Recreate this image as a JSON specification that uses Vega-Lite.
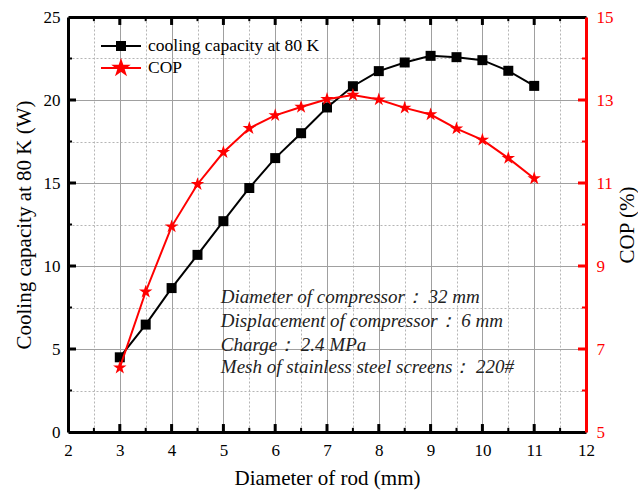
{
  "$schema": "https://vega.github.io/schema/vega-lite/v6.json",
  "width": 518,
  "height": 415,
  "autosize": {"type": "none"},
  "padding": {"left": 68, "top": 17, "right": 52, "bottom": 63},
  "background": "white",
  "config": {
    "font": "Liberation Serif",
    "view": {"stroke": null},
    "axis": {
      "labelFont": "Liberation Serif",
      "titleFont": "Liberation Serif",
      "labelFontSize": 17,
      "titleFontSize": 21,
      "titleFontWeight": "normal",
      "labelColor": "black",
      "titleColor": "black",
      "labelFlush": false,
      "labelOverlap": false
    }
  },
  "datasets": {
    "main": [
      {"d": 3, "cap": 4.5, "cop": 6.55},
      {"d": 3.5, "cap": 6.47, "cop": 8.38},
      {"d": 4, "cap": 8.67, "cop": 9.95},
      {"d": 4.5, "cap": 10.67, "cop": 10.97},
      {"d": 5, "cap": 12.7, "cop": 11.74},
      {"d": 5.5, "cap": 14.7, "cop": 12.32},
      {"d": 6, "cap": 16.5, "cop": 12.63},
      {"d": 6.5, "cap": 18.0, "cop": 12.83},
      {"d": 7, "cap": 19.55, "cop": 13.02},
      {"d": 7.5, "cap": 20.83, "cop": 13.12},
      {"d": 8, "cap": 21.74, "cop": 13.01},
      {"d": 8.5, "cap": 22.26, "cop": 12.81},
      {"d": 9, "cap": 22.66, "cop": 12.65},
      {"d": 9.5, "cap": 22.58, "cop": 12.31},
      {"d": 10, "cap": 22.4, "cop": 12.04},
      {"d": 10.5, "cap": 21.76, "cop": 11.6},
      {"d": 11, "cap": 20.85, "cop": 11.11}
    ],
    "note": [
      {"tx": 4.95, "ty": 7.79, "t": "Diameter of compressor： 32 mm"},
      {"tx": 4.95, "ty": 6.34, "t": "Displacement of compressor： 6 mm"},
      {"tx": 4.95, "ty": 4.89, "t": "Charge： 2.4 MPa"},
      {"tx": 4.95, "ty": 3.56, "t": "Mesh of stainless steel screens： 220#"}
    ],
    "xmaj": [{"v": 3}, {"v": 4}, {"v": 5}, {"v": 6}, {"v": 7}, {"v": 8}, {"v": 9}, {"v": 10}, {"v": 11}],
    "xmin": [{"v": 2.5}, {"v": 3.5}, {"v": 4.5}, {"v": 5.5}, {"v": 6.5}, {"v": 7.5}, {"v": 8.5}, {"v": 9.5}, {"v": 10.5}, {"v": 11.5}],
    "ymaj": [{"v": 5}, {"v": 10}, {"v": 15}, {"v": 20}],
    "ymin": [{"v": 2.5}, {"v": 7.5}, {"v": 12.5}, {"v": 17.5}, {"v": 22.5}]
  },
  "resolve": {
    "scale": {"y": "independent"},
    "axis": {"x": "independent", "y": "independent"}
  },
  "layer": [
    {
      "data": {"name": "main"},
      "mark": {"type": "point", "opacity": 0},
      "encoding": {
        "x": {
          "field": "d", "type": "quantitative",
          "scale": {"domain": [2, 12], "nice": false, "zero": false},
          "axis": {
            "orient": "bottom",
            "values": [2.5, 3.5, 4.5, 5.5, 6.5, 7.5, 8.5, 9.5, 10.5, 11.5],
            "labels": false, "domain": false, "ticks": false,
            "grid": true, "gridColor": "#b5b5b5", "gridDash": [2, 2], "gridWidth": 1,
            "title": null
          }
        },
        "y": {
          "field": "cap", "type": "quantitative",
          "scale": {"domain": [0, 25], "nice": false},
          "axis": {
            "orient": "left",
            "values": [2.5, 7.5, 12.5, 17.5, 22.5],
            "labels": false, "domain": false, "ticks": false,
            "grid": true, "gridColor": "#b5b5b5", "gridDash": [2, 2], "gridWidth": 1,
            "title": null
          }
        }
      }
    },
    {
      "data": {"name": "main"},
      "mark": {"type": "line", "strokeWidth": 2, "point": {"shape": "square", "size": 100, "filled": true, "opacity": 1}},
      "encoding": {
        "x": {
          "field": "d", "type": "quantitative",
          "scale": {"domain": [2, 12], "nice": false, "zero": false},
          "axis": {
            "orient": "bottom",
            "values": [2, 3, 4, 5, 6, 7, 8, 9, 10, 11, 12],
            "domain": true, "domainColor": "black", "domainWidth": 3,
            "ticks": false,
            "labelPadding": 10,
            "grid": true, "gridColor": "#a0a0a0", "gridWidth": 1,
            "title": "Diameter of rod (mm)", "titlePadding": 9
          }
        },
        "y": {
          "field": "cap", "type": "quantitative",
          "scale": {"domain": [0, 25], "nice": false},
          "axis": {
            "orient": "left",
            "values": [0, 5, 10, 15, 20, 25],
            "domain": true, "domainColor": "black", "domainWidth": 3,
            "ticks": false,
            "labelPadding": 8,
            "grid": true, "gridColor": "#a0a0a0", "gridWidth": 1,
            "title": "Cooling capacity at 80 K (W)", "titlePadding": 9
          }
        },
        "color": {
          "datum": "cooling capacity at 80 K",
          "scale": {"domain": ["cooling capacity at 80 K", "COP"], "range": ["black", "red"]},
          "legend": {
            "title": null,
            "orient": "none",
            "legendX": 42,
            "legendY": 18,
            "padding": 0,
            "symbolSize": 400,
            "labelOffset": 16,
            "labelFontSize": 17.5,
            "labelFont": "Liberation Serif",
            "labelColor": "black",
            "rowPadding": 2,
            "labelLimit": 400,
            "encode": {
              "symbols": {
                "update": {
                  "shape": {"signal": "datum.value === 'COP' ? 'M-2,0L2,0M0,-0.7L0.158,-0.216L0.666,-0.216L0.254,0.083L0.412,0.566L0,0.267L-0.412,0.566L-0.254,0.083L-0.666,-0.216L-0.158,-0.216Z' : 'M-2,0L2,0M-0.4,-0.4L0.4,-0.4L0.4,0.4L-0.4,0.4Z'"},
                  "fill": {"signal": "datum.value === 'COP' ? 'red' : 'black'"},
                  "stroke": {"signal": "datum.value === 'COP' ? 'red' : 'black'"},
                  "strokeWidth": {"value": 2},
                  "opacity": {"value": 1}
                }
              }
            }
          }
        }
      }
    },
    {
      "data": {"name": "main"},
      "mark": {"type": "line", "strokeWidth": 2, "point": {"shape": "M0,-1L0.225,-0.309L0.951,-0.309L0.363,0.118L0.588,0.809L0,0.382L-0.588,0.809L-0.363,0.118L-0.951,-0.309L-0.225,-0.309Z", "size": 200, "filled": true, "opacity": 1}},
      "encoding": {
        "x": {
          "field": "d", "type": "quantitative",
          "scale": {"domain": [2, 12], "nice": false, "zero": false},
          "axis": {
            "orient": "top",
            "values": [2, 3, 4, 5, 6, 7, 8, 9, 10, 11, 12],
            "labels": false, "ticks": false,
            "domain": true, "domainColor": "black", "domainWidth": 3,
            "grid": false, "title": null
          }
        },
        "y": {
          "field": "cop", "type": "quantitative",
          "scale": {"domain": [5, 15], "nice": false, "zero": false},
          "axis": {
            "orient": "right",
            "values": [5, 7, 9, 11, 13, 15],
            "domain": true, "domainColor": "red", "domainWidth": 3,
            "ticks": false,
            "labelColor": "red", "labelPadding": 10,
            "grid": false,
            "title": "COP (%)", "titleAngle": 270, "titleBaseline": "top", "titlePadding": 3
          }
        },
        "color": {"datum": "COP"}
      }
    },
    {
      "data": {"name": "xmaj"},
      "mark": {"type": "rule", "strokeWidth": 3, "color": "black"},
      "encoding": {
        "x": {"field": "v", "type": "quantitative", "scale": {"domain": [2, 12], "nice": false, "zero": false}, "axis": null},
        "y": {"datum": 0, "type": "quantitative", "scale": {"domain": [0, 25], "nice": false}, "axis": null},
        "y2": {"datum": 0.48}
      }
    },
    {
      "data": {"name": "xmaj"},
      "mark": {"type": "rule", "strokeWidth": 3, "color": "black"},
      "encoding": {
        "x": {"field": "v", "type": "quantitative", "scale": {"domain": [2, 12], "nice": false, "zero": false}, "axis": null},
        "y": {"datum": 25, "type": "quantitative", "scale": {"domain": [0, 25], "nice": false}, "axis": null},
        "y2": {"datum": 24.52}
      }
    },
    {
      "data": {"name": "xmin"},
      "mark": {"type": "rule", "strokeWidth": 2, "color": "black"},
      "encoding": {
        "x": {"field": "v", "type": "quantitative", "scale": {"domain": [2, 12], "nice": false, "zero": false}, "axis": null},
        "y": {"datum": 0, "type": "quantitative", "scale": {"domain": [0, 25], "nice": false}, "axis": null},
        "y2": {"datum": 0.25}
      }
    },
    {
      "data": {"name": "xmin"},
      "mark": {"type": "rule", "strokeWidth": 2, "color": "black"},
      "encoding": {
        "x": {"field": "v", "type": "quantitative", "scale": {"domain": [2, 12], "nice": false, "zero": false}, "axis": null},
        "y": {"datum": 25, "type": "quantitative", "scale": {"domain": [0, 25], "nice": false}, "axis": null},
        "y2": {"datum": 24.75}
      }
    },
    {
      "data": {"name": "ymaj"},
      "mark": {"type": "rule", "strokeWidth": 3, "color": "black"},
      "encoding": {
        "y": {"field": "v", "type": "quantitative", "scale": {"domain": [0, 25], "nice": false}, "axis": null},
        "x": {"datum": 2, "type": "quantitative", "scale": {"domain": [2, 12], "nice": false, "zero": false}, "axis": null},
        "x2": {"datum": 2.155}
      }
    },
    {
      "data": {"name": "ymin"},
      "mark": {"type": "rule", "strokeWidth": 2, "color": "black"},
      "encoding": {
        "y": {"field": "v", "type": "quantitative", "scale": {"domain": [0, 25], "nice": false}, "axis": null},
        "x": {"datum": 2, "type": "quantitative", "scale": {"domain": [2, 12], "nice": false, "zero": false}, "axis": null},
        "x2": {"datum": 2.078}
      }
    },
    {
      "data": {"name": "ymaj"},
      "mark": {"type": "rule", "strokeWidth": 3, "color": "red"},
      "encoding": {
        "y": {"field": "v", "type": "quantitative", "scale": {"domain": [0, 25], "nice": false}, "axis": null},
        "x": {"datum": 12, "type": "quantitative", "scale": {"domain": [2, 12], "nice": false, "zero": false}, "axis": null},
        "x2": {"datum": 11.845}
      }
    },
    {
      "data": {"name": "ymin"},
      "mark": {"type": "rule", "strokeWidth": 2, "color": "red"},
      "encoding": {
        "y": {"field": "v", "type": "quantitative", "scale": {"domain": [0, 25], "nice": false}, "axis": null},
        "x": {"datum": 12, "type": "quantitative", "scale": {"domain": [2, 12], "nice": false, "zero": false}, "axis": null},
        "x2": {"datum": 11.922}
      }
    },
    {
      "data": {"name": "note"},
      "mark": {"type": "text", "align": "left", "baseline": "alphabetic", "fontStyle": "italic", "fontSize": 19, "font": "Liberation Serif", "color": "#222222"},
      "encoding": {
        "x": {"field": "tx", "type": "quantitative", "scale": {"domain": [2, 12], "nice": false, "zero": false}, "axis": null},
        "y": {"field": "ty", "type": "quantitative", "scale": {"domain": [0, 25], "nice": false}, "axis": null},
        "text": {"field": "t"}
      }
    }
  ]
}
